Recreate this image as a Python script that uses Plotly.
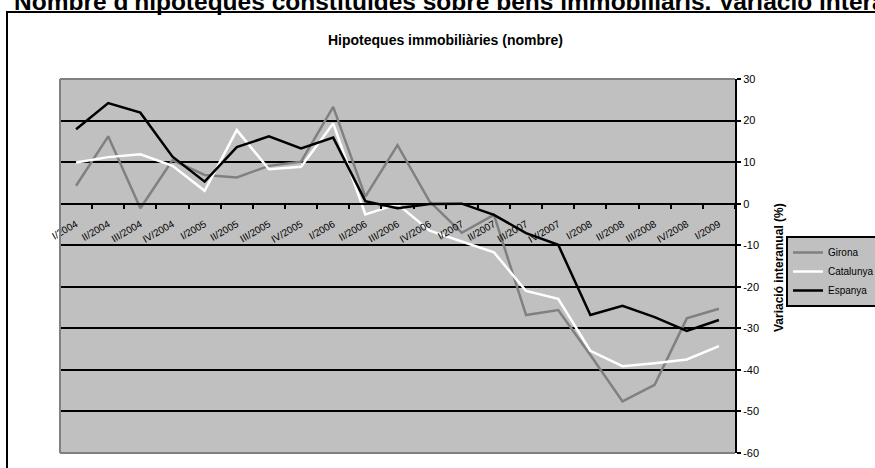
import plotly.graph_objects as go

# ---------------- data ----------------
quarters = ["I/2004", "II/2004", "III/2004", "IV/2004", "I/2005", "II/2005", "III/2005",
            "IV/2005", "I/2006", "II/2006", "III/2006", "IV/2006", "I/2007", "II/2007",
            "III/2007", "IV/2007", "I/2008", "II/2008", "III/2008", "IV/2008", "I/2009"]
girona = [4.3, 16.2, -1.1, 10.5, 6.9, 6.3, 9.1, 10.1, 23.3, 1.7, 14.1, 0.5, -7.0, -2.7,
          -26.8, -25.6, -36.4, -47.6, -43.6, -27.6, -25.3]
catalunya = [9.9, 11.2, 11.9, 9.1, 3.1, 17.7, 8.3, 8.9, 19.3, -2.6, -0.1, -6.5, -9.1, -11.7,
             -21.0, -22.9, -35.4, -39.1, -38.4, -37.5, -34.3]
espanya = [17.9, 24.2, 21.9, 11.3, 5.3, 13.6, 16.2, 13.3, 15.9, 0.6, -1.1, -0.1, 0.0, -2.7,
           -7.1, -9.9, -26.8, -24.6, -27.3, -30.6, -28.0]
y_tick_values = [30, 20, 10, 0, -10, -20, -30, -40, -50, -60]
y_tick_labels = ["30", "20", "10", "0", "-10", "-20", "-30", "-40", "-50", "-60"]

main_title = "Nombre d'hipoteques constituïdes sobre béns immobiliaris. Variació interanual (%)"
chart_title = "Hipoteques immobiliàries (nombre)"
y_title = "Variació interanual (%)"

# ---------------- layout helpers ----------------
W, H = 875, 468
L, R, T, B = 60, 140, 79, 15
PW, PH = W - L - R, H - T - B


def px(x):
    return (x - L) / PW


def py(y):
    return (H - B - y) / PH


FONT = "Liberation Sans, Arial, sans-serif"

fig = go.Figure()
for name, vals, col in [("Girona", girona, "#808080"),
                        ("Catalunya", catalunya, "#FFFFFF"),
                        ("Espanya", espanya, "#000000")]:
    fig.add_trace(go.Scatter(x=quarters, y=vals, mode="lines", name=name,
                             line=dict(color=col, width=2.5)))

fig.update_layout(
    width=W, height=H,
    margin=dict(l=L, r=R, t=T, b=B, autoexpand=False),
    paper_bgcolor="white", plot_bgcolor="#C0C0C0",
    font=dict(family=FONT, color="black", size=11),
    showlegend=True,
    legend=dict(x=px(786), y=py(236), xanchor="left", yanchor="top",
                bgcolor="#C0C0C0", bordercolor="black", borderwidth=2,
                font=dict(family=FONT, size=10, color="black"),
                tracegroupgap=0),
    xaxis=dict(type="category", anchor="free", position=2 / 3,
               range=[-0.5, len(quarters) - 0.5],
               showline=True, linecolor="black", linewidth=2,
               ticks="outside", tickson="boundaries", ticklen=4, tickwidth=1.5,
               tickcolor="black", tickangle=-30, ticklabelstandoff=10,
               tickfont=dict(family=FONT, size=10, color="black"),
               showgrid=False, zeroline=False, fixedrange=True),
    yaxis=dict(side="right", range=[-60, 30],
               tickvals=y_tick_values, ticktext=y_tick_labels,
               showgrid=True, gridcolor="black", gridwidth=1.5,
               zeroline=False, showline=True, linecolor="black", linewidth=2,
               ticks="outside", ticklen=4, tickwidth=1.5, tickcolor="black",
               tickfont=dict(family=FONT, size=11, color="black"),
               fixedrange=True),
    shapes=[
        # outer chart frame
        dict(type="rect", xref="paper", yref="paper", x0=px(7), x1=px(890),
             y0=py(490), y1=py(12), line=dict(color="black", width=2),
             fillcolor="rgba(0,0,0,0)", layer="below"),
        # plot-area border (left, top, bottom)
        dict(type="line", xref="paper", yref="paper", x0=0, x1=0, y0=0, y1=1,
             line=dict(color="#808080", width=2), layer="above"),
        dict(type="line", xref="paper", yref="paper", x0=0, x1=1, y0=1, y1=1,
             line=dict(color="#808080", width=2), layer="above"),
        dict(type="line", xref="paper", yref="paper", x0=0, x1=1, y0=0, y1=0,
             line=dict(color="#808080", width=2), layer="above"),
    ],
    annotations=[
        dict(text="<b>" + main_title + "</b>", xref="paper", yref="paper",
             x=px(12), y=py(1), xanchor="left", yanchor="middle", showarrow=False,
             font=dict(family=FONT, size=24.5, color="black")),
        dict(text="<b>" + chart_title + "</b>", xref="paper", yref="paper",
             x=px(445.5), y=py(40), xanchor="center", yanchor="middle", showarrow=False,
             font=dict(family=FONT, size=14, color="black")),
        dict(text="<b>" + y_title + "</b>", xref="paper", yref="paper",
             x=px(779), y=py(268), xanchor="center", yanchor="middle", showarrow=False,
             textangle=-90, font=dict(family=FONT, size=12, color="black")),
    ],
)

fig.write_html("out.html", config={"displayModeBar": False},
               post_script="document.body.style.margin='0';")
